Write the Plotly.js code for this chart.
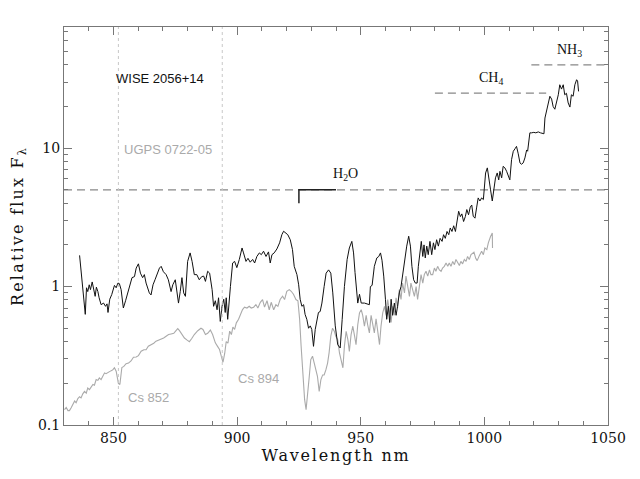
<!DOCTYPE html>
<html>
<head>
<meta charset="utf-8">
<script src="https://cdn.plot.ly/plotly-3.0.1.min.js"></script>
<style>
  html, body { margin: 0; padding: 0; background: #fff; }
  #chart { width: 640px; height: 479px; }
  /* the original axis titles are set in a widely spaced plotter font */
  #chart .xtitle { letter-spacing: 1.8px; }
  #chart .ytitle { letter-spacing: 2.2px; }
</style>
</head>
<body>
<div id="chart"></div>
<script>
// WISE 2056+14 (black) spectrum
const wiseWave = [836.3, 838.6, 839.1, 839.6, 840.2, 840.7, 841.4, 842.1, 842.6, 843.1, 843.7, 844.2, 845.0, 846.0, 846.8, 847.4, 847.8, 848.5, 849.3, 850.4,
  851.1, 851.8, 852.4, 853.1, 854.0, 854.9, 855.8, 856.7, 857.5, 858.5, 859.2, 860.1, 860.9, 861.8, 862.5, 863.2, 863.9, 864.5, 865.2, 866.0,
  866.8, 867.6, 868.6, 869.3, 870.2, 871.3, 872.2, 873.3, 874.0, 875.0, 875.7, 876.3, 877.0, 877.7, 878.4, 879.1, 880.0, 881.0, 881.8, 882.7,
  883.7, 884.7, 885.7, 886.5, 887.2, 888.1, 888.9, 889.9, 890.5, 891.2, 891.9, 892.5, 893.2, 893.9, 894.6, 895.2, 895.6, 896.2, 897.3, 898.2,
  899.0, 899.9, 900.9, 902.0, 902.6, 903.6, 904.4, 905.3, 906.3, 907.1, 908.0, 909.0, 909.8, 910.7, 911.7, 912.7, 913.4, 914.1, 915.0, 916.1,
  917.2, 918.1, 918.8, 919.7, 920.5, 921.5, 922.4, 923.1, 924.2, 924.9, 925.5, 926.2, 926.9, 927.5, 928.2, 928.9, 929.6, 930.2, 930.9, 931.6,
  932.3, 932.9, 933.6, 934.3, 935.2, 936.0, 937.0, 937.9, 938.7, 939.7, 940.7, 941.7, 942.5, 943.4, 944.5, 945.4, 946.4, 947.1, 947.7, 948.4,
  948.8, 949.5, 950.2, 951.5, 952.8, 953.5, 953.9, 954.6, 955.5, 956.5, 957.3, 958.0, 958.6, 959.3, 960.0, 960.5, 961.2, 961.7, 962.3, 962.9,
  963.6, 964.3, 964.9, 965.6, 966.3, 966.9, 967.7, 968.6, 969.4, 970.1, 970.7, 971.4, 972.1, 972.8, 973.3, 974.0, 974.5, 975.1, 975.6, 976.1,
  976.7, 977.3, 978.0, 978.7, 979.4, 980.0, 980.7, 981.4, 982.1, 982.9, 983.5, 984.2, 984.9, 985.6, 986.2, 986.9, 987.6, 988.3, 988.9, 989.6,
  990.3, 990.9, 991.6, 992.3, 992.9, 993.6, 994.3, 994.9, 995.5, 996.2, 996.9, 997.5, 998.2, 998.9, 999.6, 1000.0, 1000.5, 1001.2, 1001.9, 1002.5,
  1003.2, 1003.9, 1004.5, 1005.2, 1005.8, 1006.3, 1007.0, 1007.6, 1008.3, 1009.0, 1009.7, 1010.3, 1011.0, 1011.7, 1012.4, 1013.0, 1013.7, 1014.4, 1015.0, 1015.7,
  1016.4, 1017.1, 1017.5, 1018.0, 1018.4, 1019.1, 1020.0, 1020.8, 1021.8, 1022.7, 1023.5, 1024.1, 1024.5, 1025.1, 1025.8, 1026.5, 1027.2, 1027.8, 1028.5, 1029.2,
  1029.9, 1030.5, 1031.2, 1031.9, 1032.5, 1033.2, 1033.9, 1034.6, 1035.2, 1035.9, 1036.6, 1037.3, 1037.7, 1038.1];
const wiseFlux = [1.68, 0.63, 0.98, 0.92, 1.03, 0.95, 1.08, 0.95, 0.85, 0.99, 0.92, 0.83, 0.74, 0.76, 0.72, 0.75, 0.65, 0.81, 0.875, 1.02,
  0.98, 1.06, 1.05, 0.95, 0.70, 0.79, 0.90, 1.06, 1.16, 1.18, 1.36, 1.46, 1.25, 1.16, 1.22, 1.06, 0.98, 0.90, 0.87, 1.03,
  1.12, 1.22, 1.36, 1.40, 1.28, 1.22, 1.12, 0.92, 1.03, 1.12, 0.92, 0.76, 0.92, 1.16, 0.90, 0.85, 1.52, 1.75, 1.52, 1.22,
  1.22, 1.12, 1.18, 1.19, 1.09, 1.29, 1.25, 0.95, 0.72, 0.79, 0.68, 0.83, 0.56, 0.72, 0.81, 0.65, 0.83, 0.58, 1.0, 1.48,
  1.52, 1.37, 1.57, 1.90, 1.75, 1.52, 1.60, 1.50, 1.57, 1.48, 1.65, 1.75, 1.70, 1.80, 1.65, 1.78, 1.48, 1.70, 1.75, 1.87,
  2.07, 2.37, 2.51, 2.45, 2.37, 2.18, 1.85, 1.40, 1.22, 1.03, 0.81, 0.72, 0.74, 0.63, 0.58, 0.50, 0.52, 0.49, 0.37, 0.49,
  0.58, 0.65, 0.66, 0.76, 1.0, 1.25, 1.32, 1.25, 0.90, 0.52, 0.38, 0.36, 0.58, 1.0, 1.57, 1.90, 2.12, 1.75, 1.26, 0.90,
  0.76, 0.88, 0.76, 0.76, 0.75, 0.74, 1.0, 1.02, 1.40, 1.61, 1.65, 1.75, 1.55, 1.19, 0.81, 0.58, 0.72, 0.55, 0.81, 0.62,
  0.76, 0.62, 0.72, 0.90, 1.0, 1.19, 1.57, 1.96, 2.31, 1.96, 1.40, 1.12, 1.06, 1.06, 1.40, 1.80, 2.12, 1.65, 2.0, 1.61,
  1.96, 1.70, 2.12, 1.70, 2.07, 1.85, 2.18, 1.96, 2.23, 2.12, 2.37, 2.23, 2.50, 2.37, 2.65, 2.50, 2.75, 2.50, 2.88, 3.50,
  3.20, 3.35, 2.95, 3.20, 3.60, 3.30, 3.75, 3.88, 3.22, 3.12, 3.75, 4.37, 4.15, 4.37, 4.25, 5.15, 6.62, 7.2, 6.1, 5.0,
  4.15, 5.3, 6.1, 6.62, 5.9, 6.8, 6.1, 7.39, 7.2, 6.8, 6.3, 5.9, 8.26, 9.49, 9.9, 10.3, 9.1, 7.82, 7.65, 7.82,
  8.5, 9.7, 9.5, 10.9, 12.9, 12.9, 13.0, 12.9, 13.1, 12.9, 12.8, 12.7, 16.5, 18.4, 21.2, 23.7, 22.6, 20.0, 19.1, 21.2,
  24.3, 28.7, 26.7, 28.7, 24.3, 24.9, 21.2, 19.8, 24.3, 23.7, 28.7, 31.2, 30.5, 25.7];

// UGPS 0722-05 (grey) spectrum
const ugpsWave = [830.2, 830.9, 831.6, 832.2, 832.9, 833.6, 834.3, 834.9, 835.6, 836.3, 836.9, 837.6, 838.3, 839.0, 839.6, 840.3, 841.0, 841.7, 842.3, 843.0,
  843.7, 844.3, 845.0, 845.7, 846.4, 847.0, 847.7, 848.4, 849.1, 849.7, 850.4, 851.1, 851.5, 852.0, 852.6, 853.0, 853.4, 854.2, 855.1, 856.1,
  857.1, 858.1, 859.2, 860.1, 861.2, 862.3, 863.2, 864.1, 865.2, 866.3, 867.2, 868.3, 869.3, 870.3, 871.3, 872.3, 873.3, 874.4, 875.3, 876.0,
  876.7, 877.6, 878.7, 879.8, 880.7, 881.6, 882.7, 884.1, 885.4, 886.2, 887.2, 888.1, 889.2, 890.1, 891.2, 892.1, 892.9, 893.6, 894.3, 895.0,
  895.6, 896.3, 897.0, 897.7, 898.3, 899.0, 899.7, 900.6, 901.3, 902.2, 903.0, 904.0, 904.9, 905.7, 906.7, 907.6, 908.4, 909.4, 910.3, 911.1,
  912.1, 913.0, 913.8, 914.8, 915.7, 916.5, 917.4, 918.4, 919.2, 920.1, 921.1, 921.9, 922.8, 923.8, 924.6, 925.3, 925.9, 926.6, 927.3, 927.9,
  928.5, 929.2, 929.8, 930.5, 931.2, 931.9, 932.5, 933.2, 933.9, 934.6, 935.2, 935.9, 936.6, 937.2, 937.9, 938.6, 939.3, 939.9, 940.7, 941.4,
  942.1, 942.8, 943.4, 944.1, 944.8, 945.4, 946.1, 946.8, 947.5, 948.1, 948.8, 949.5, 950.2, 950.8, 951.5, 952.2, 952.8, 953.5, 954.2, 954.9,
  955.5, 956.2, 956.9, 957.6, 958.2, 958.9, 959.6, 960.3, 960.9, 961.6, 962.3, 962.9, 963.6, 964.3, 964.9, 965.6, 966.3, 966.9, 967.7, 968.3,
  969.0, 969.7, 970.3, 971.0, 971.7, 972.4, 973.0, 973.7, 974.4, 975.1, 975.7, 976.4, 977.1, 977.8, 978.4, 979.1, 979.8, 980.4, 981.1, 981.8,
  982.5, 983.1, 983.8, 984.5, 985.2, 985.8, 986.5, 987.2, 987.9, 988.5, 989.2, 989.9, 990.5, 991.2, 991.9, 992.6, 993.2, 993.9, 994.6, 995.3,
  995.8, 996.5, 997.1, 998.0, 998.9, 999.6, 1000.2, 1001.0, 1001.6, 1002.5, 1003.2, 1003.3];
const ugpsFlux = [0.129, 0.134, 0.127, 0.127, 0.133, 0.141, 0.149, 0.145, 0.155, 0.160, 0.157, 0.168, 0.175, 0.170, 0.185, 0.180, 0.190, 0.196, 0.194, 0.213,
  0.210, 0.219, 0.213, 0.225, 0.238, 0.235, 0.240, 0.245, 0.247, 0.250, 0.259, 0.245, 0.220, 0.200, 0.196, 0.245, 0.260, 0.265, 0.277, 0.280,
  0.290, 0.309, 0.310, 0.317, 0.341, 0.350, 0.350, 0.371, 0.380, 0.390, 0.403, 0.410, 0.420, 0.425, 0.438, 0.450, 0.455, 0.460, 0.481, 0.497,
  0.480, 0.455, 0.425, 0.410, 0.400, 0.420, 0.450, 0.480, 0.500, 0.490, 0.450, 0.460, 0.485, 0.450, 0.392, 0.370, 0.351, 0.314, 0.284, 0.330,
  0.400, 0.390, 0.476, 0.450, 0.510, 0.490, 0.547, 0.580, 0.628, 0.682, 0.710, 0.700, 0.720, 0.700, 0.710, 0.741, 0.700, 0.770, 0.806, 0.710,
  0.790, 0.680, 0.770, 0.680, 0.740, 0.720, 0.806, 0.851, 0.806, 0.925, 0.950, 0.925, 0.880, 0.806, 0.790, 0.578, 0.371, 0.213, 0.153, 0.129,
  0.160, 0.225, 0.297, 0.314, 0.280, 0.250, 0.225, 0.175, 0.213, 0.230, 0.230, 0.250, 0.280, 0.332, 0.438, 0.500, 0.476, 0.438, 0.414, 0.332,
  0.290, 0.259, 0.371, 0.475, 0.414, 0.340, 0.450, 0.517, 0.440, 0.380, 0.530, 0.646, 0.680, 0.620, 0.517, 0.620, 0.530, 0.463, 0.620, 0.517,
  0.463, 0.585, 0.490, 0.381, 0.517, 0.646, 0.720, 0.620, 0.806, 0.680, 0.550, 0.720, 0.620, 0.830, 0.700, 0.950, 0.806, 1.06, 0.900, 1.19,
  1.00, 0.850, 1.06, 0.950, 0.850, 1.00, 0.806, 1.00, 1.22, 1.06, 1.22, 1.29, 1.19, 1.32, 1.22, 1.22, 1.36, 1.29, 1.40, 1.32,
  1.29, 1.36, 1.40, 1.48, 1.40, 1.48, 1.40, 1.52, 1.44, 1.57, 1.48, 1.42, 1.52, 1.46, 1.57, 1.52, 1.65, 1.57, 1.70, 1.76,
  1.77, 1.60, 1.54, 1.68, 1.80, 1.70, 1.90, 1.85, 2.07, 2.30, 2.44, 1.90];

// absorption band markers
const h2oLevel = 5;
const h2oBracketX = [925, 925, 940];
const h2oBracketY = [4, 5, 5];
const ch4Span = [980, 1025];
const ch4Level = 25;
const nh3Span = [1019, 1050];
const nh3Level = 40;
const csLines = [852, 894];

const xRange = [830, 1050];
const yRange = [0.1, 75];

const majorY = [0.1, 1, 10];
const majorYText = ['0.1', '1', '10'];
const minorY = [];
[0.1, 1, 10].forEach((dec) => {
  for (let k = 2; k <= 9; k++) {
    if (dec * k < yRange[1]) minorY.push(dec * k);
  }
});

const lg = (v) => Math.log10(v);
const grey = '#aaaaaa';
const dashGrey = '#888888';

const traces = [
  {
    x: xRange, y: [h2oLevel, h2oLevel], mode: 'lines', hoverinfo: 'skip',
    line: { color: dashGrey, width: 1.2, dash: '8px,5px' }
  },
  {
    x: ch4Span, y: [ch4Level, ch4Level], mode: 'lines', hoverinfo: 'skip',
    line: { color: dashGrey, width: 1.2, dash: '8px,5px' }
  },
  {
    x: nh3Span, y: [nh3Level, nh3Level], mode: 'lines', hoverinfo: 'skip',
    line: { color: dashGrey, width: 1.2, dash: '8px,5px' }
  },
  {
    x: h2oBracketX, y: h2oBracketY, mode: 'lines', hoverinfo: 'skip',
    line: { color: '#222', width: 1.5 }
  },
  {
    x: ugpsWave, y: ugpsFlux, mode: 'lines', name: 'UGPS 0722-05',
    line: { color: grey, width: 1.1 }
  },
  {
    x: wiseWave, y: wiseFlux, mode: 'lines', name: 'WISE 2056+14',
    line: { color: '#111', width: 1 }
  }
];

const shapes = csLines.map((w) => ({
  type: 'line', xref: 'x', yref: 'paper', x0: w, x1: w, y0: 0, y1: 1,
  line: { color: '#c8c8c8', width: 1, dash: 'dot' }
}));

const sansLabel = { family: 'Liberation Sans, Arial, sans-serif', size: 13 };
const serifLabel = { family: 'Liberation Serif, Times New Roman, serif', size: 14, color: '#111' };

const annotations = [
  { x: 869, y: lg(32), text: 'WISE 2056+14', font: { ...sansLabel, color: '#111' } },
  { x: 872, y: lg(9.7), text: 'UGPS 0722-05', font: { ...sansLabel, color: grey } },
  { x: 864, y: lg(0.159), text: 'Cs 852', font: { ...sansLabel, color: grey } },
  { x: 908.6, y: lg(0.215), text: 'Cs 894', font: { ...sansLabel, color: grey } },
  { x: 943.7, y: lg(6.5), text: 'H<sub>2</sub>O', font: serifLabel },
  { x: 1002.7, y: lg(32), text: 'CH<sub>4</sub>', font: serifLabel },
  { x: 1034.6, y: lg(51), text: 'NH<sub>3</sub>', font: serifLabel }
].map((a) => ({ ...a, xref: 'x', yref: 'y', showarrow: false }));

const axisFont = { family: 'DejaVu Serif, Liberation Serif, serif', size: 14, color: '#111' };
const frame = {
  showline: true, linecolor: '#777', linewidth: 1, mirror: 'ticks',
  ticks: 'inside', ticklen: 8, tickcolor: '#777', tickwidth: 1,
  showgrid: false, zeroline: false, tickfont: axisFont
};

const layout = {
  width: 640,
  height: 479,
  margin: { l: 64, r: 32, t: 27, b: 54 },
  paper_bgcolor: '#fff',
  plot_bgcolor: '#fff',
  showlegend: false,
  xaxis: {
    ...frame,
    range: xRange,
    tickvals: [850, 900, 950, 1000, 1050],
    minor: { dtick: 10, tick0: 830, ticks: 'inside', ticklen: 4, tickcolor: '#777' },
    title: { text: 'Wavelength nm', font: { ...axisFont, size: 16 }, standoff: 2 }
  },
  yaxis: {
    ...frame,
    type: 'log',
    range: [lg(yRange[0]), lg(yRange[1])],
    tickvals: majorY,
    ticktext: majorYText,
    minor: { tickvals: minorY, ticks: 'inside', ticklen: 4, tickcolor: '#777' },
    title: { text: 'Relative flux F<sub>λ</sub>', font: { ...axisFont, size: 16 }, standoff: 10 }
  },
  shapes: shapes,
  annotations: annotations
};

Plotly.newPlot('chart', traces, layout, { displayModeBar: false, staticPlot: true });
</script>
</body>
</html>
